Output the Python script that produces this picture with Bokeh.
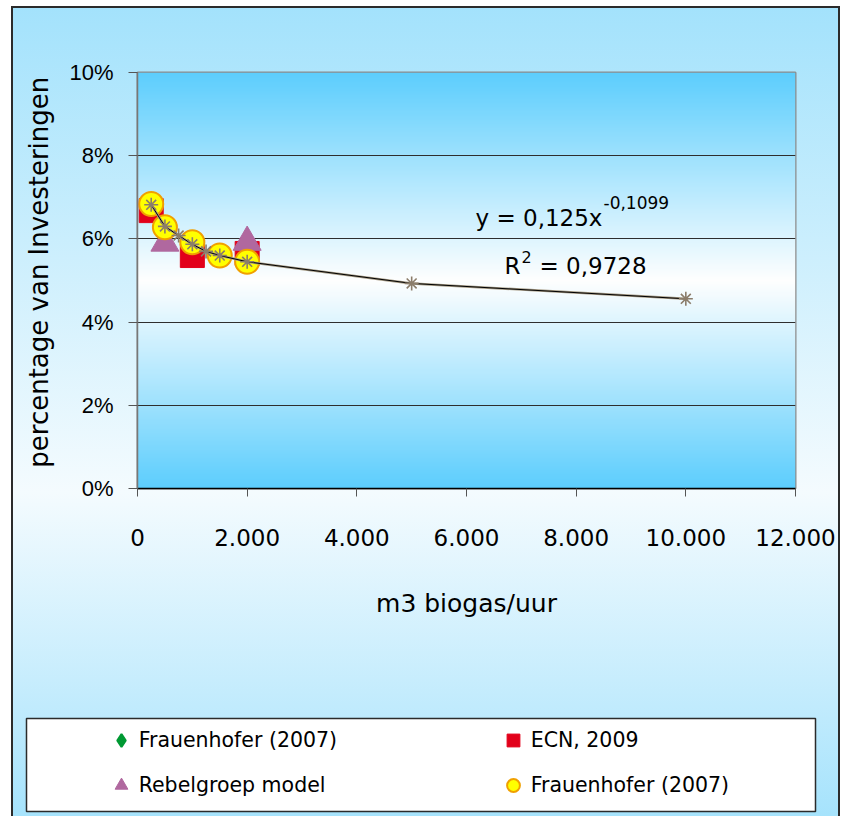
import numpy as np
from bokeh.plotting import figure
from bokeh.models import (Range1d, FixedTicker, PrintfTickFormatter, CustomJSTickFormatter,
                          Legend, LegendItem, Label, ColumnDataSource)
from bokeh.embed import file_html
from bokeh.resources import INLINE

# ---------------- data ----------------
frauenhofer_x = [250, 500, 1000, 1500, 2000]
frauenhofer_y = [6.84, 6.28, 5.92, 5.60, 5.45]
ecn_x = [250, 1000, 2000]
ecn_y = [6.68, 5.60, 5.65]
rebel_x = [500, 2000]
rebel_y = [5.90, 5.92]
trend_x = [250, 500, 750, 1000, 1250, 1500, 2000, 5000, 10000]
trend_y = [6.82, 6.30, 6.08, 5.87, 5.70, 5.60, 5.45, 4.93, 4.56]
x_ticks = [0, 2000, 4000, 6000, 8000, 10000, 12000]
y_ticks = [0, 2, 4, 6, 8, 10]
legend_labels = ["Frauenhofer (2007)", "ECN, 2009", "Rebelgroep model", "Frauenhofer (2007)"]
eq_main = "y = 0,125x"
eq_exp = "-0,1099"
r2_main = "R"
r2_sup = "2"
r2_val = "= 0,9728"

# ---------------- layout ----------------
OFF_X, OFF_Y = 11, 6
W = 829
H1 = 700          # chart part
H2 = 110          # legend part
FL, FT, FW, FH = 137, 72, 658, 416  # frame in page pixels
XMAX, YMAX = 12000, 10
LB_L, LB_R, LB_T, LB_B = 26, 815, 718, 811  # legend box in page pixels


def px2x(px):
    return (px - FL) / FW * XMAX


def py2y(py):
    return (FT + FH - py) / FH * YMAX


src_fr = ColumnDataSource(dict(x=frauenhofer_x, y=frauenhofer_y))
src_ecn = ColumnDataSource(dict(x=ecn_x, y=ecn_y))
src_reb = ColumnDataSource(dict(x=rebel_x, y=rebel_y))
src_tr = ColumnDataSource(dict(x=trend_x, y=trend_y))

p = figure(width=W, height=H1, x_range=Range1d(0, XMAX), y_range=Range1d(0, YMAX),
           output_backend="svg", toolbar_location=None,
           min_border_left=FL - OFF_X, min_border_right=(OFF_X + W) - (FL + FW),
           min_border_top=FT - OFF_Y, min_border_bottom=(OFF_Y + H1) - (FT + FH))
p.border_fill_color = None
p.background_fill_color = None
p.outline_line_color = "#8c8c8c"
p.outline_line_width = 2
p.styles = {
    "margin-left": f"{OFF_X}px",
    "margin-top": f"{OFF_Y}px",
    "background": "linear-gradient(to bottom, #a3e2fc 0%, #f4fbfe 69.4%, #c1ebfd 100%)",
    "box-shadow": "inset 2px 0 0 #2b2b2b, inset -2px 0 0 #2b2b2b, inset 0 2px 0 #2b2b2b",
}

# plot-area gradient (blue at edges, white in the middle)
n = 400
t = np.abs(np.linspace(-1.0, 1.0, n))
blue = np.array([93, 206, 253], dtype=float)
white = np.array([255, 255, 255], dtype=float)
cols = (white[None, :] * (1 - t[:, None]) + blue[None, :] * t[:, None]).astype(np.uint32)
img = np.empty((n, 2), dtype=np.uint32)
view = img.view(dtype=np.uint8).reshape((n, 2, 4))
view[:, :, 0] = cols[:, 0][:, None]
view[:, :, 1] = cols[:, 1][:, None]
view[:, :, 2] = cols[:, 2][:, None]
view[:, :, 3] = 255
p.image_rgba(image=[img], x=0, y=0, dw=XMAX, dh=YMAX, level="image")

# grid
p.xgrid.grid_line_color = None
p.ygrid.ticker = FixedTicker(ticks=y_ticks)
p.ygrid.grid_line_color = "#2e2e2e"
p.ygrid.grid_line_width = 1

# axes
p.xaxis.ticker = FixedTicker(ticks=x_ticks)
p.xaxis.formatter = CustomJSTickFormatter(
    code="return tick.toFixed(0).replace(/\\B(?=(\\d{3})+(?!\\d))/g, '.');")
p.yaxis.ticker = FixedTicker(ticks=y_ticks)
p.yaxis.formatter = PrintfTickFormatter(format="%d%%")

for ax in (p.xaxis, p.yaxis):
    ax.minor_tick_line_color = None
    ax.major_tick_in = 0
    ax.major_label_text_color = "black"
    ax.axis_label_text_color = "black"
    ax.axis_label_text_font = "DejaVu Sans"
    ax.axis_label_text_font_style = "normal"

p.xaxis.axis_line_color = "black"
p.xaxis.axis_line_width = 1.5
p.xaxis.major_tick_line_color = "#555555"
p.xaxis.major_tick_out = 8
p.xaxis.major_label_text_font = "DejaVu Sans"
p.xaxis.major_label_text_font_size = "23px"
p.xaxis.major_label_standoff = 32
p.xaxis.axis_label = "m3 biogas/uur"
p.xaxis.axis_label_text_font_size = "25px"
p.xaxis.axis_label_standoff = 40

p.yaxis.axis_line_color = "#777777"
p.yaxis.axis_line_width = 1.5
p.yaxis.major_tick_line_color = "#555555"
p.yaxis.major_tick_out = 9
p.yaxis.major_label_text_font = "Liberation Sans"
p.yaxis.major_label_text_font_size = "22px"
p.yaxis.major_label_standoff = 15
p.yaxis.axis_label = "\u00a0\u00a0percentage van Investeringen"
p.yaxis.axis_label_text_font_size = "26px"
p.yaxis.axis_label_standoff = 12

# series styles
sty_dia = dict(marker="diamond", size=16, fill_color="#009933", line_color="#009933",
               line_width=2)
sty_ecn = dict(marker="square", size=24, fill_color="#e2001a", line_color="#e2001a")
sty_reb = dict(marker="triangle", size=28, fill_color="#b0689f", line_color="#b0689f")
sty_circ = dict(marker="circle", size=24, fill_color="#ffff00", line_color="#f0a000",
                line_width=2)

p.scatter("x", "y", source=src_fr, **sty_dia)
p.scatter("x", "y", source=src_ecn, **sty_ecn)
p.scatter("x", "y", source=src_reb, **sty_reb)
p.scatter("x", "y", source=src_fr, **sty_circ)
p.line("x", "y", source=src_tr, line_color="#a59a84", line_width=2.5)
p.line("x", "y", source=src_tr, line_color="black", line_width=1)
p.scatter("x", "y", source=src_tr, marker="asterisk", size=14, line_color="#8b7d6b",
          line_width=1.6)

# equation texts
p.add_layout(Label(x=px2x(475), y=py2y(217), text=eq_main, text_font="DejaVu Sans",
                   text_font_size="23px", text_baseline="alphabetic", text_color="black"))
p.add_layout(Label(x=px2x(603), y=py2y(202), text=eq_exp, text_font="DejaVu Sans",
                   text_font_size="17px", text_baseline="alphabetic", text_color="black"))
p.add_layout(Label(x=px2x(504), y=py2y(265), text=r2_main, text_font="DejaVu Sans",
                   text_font_size="23px", text_baseline="alphabetic", text_color="black"))
p.add_layout(Label(x=px2x(521), y=py2y(256), text=r2_sup, text_font="DejaVu Sans",
                   text_font_size="16px", text_baseline="alphabetic", text_color="black"))
p.add_layout(Label(x=px2x(539), y=py2y(265), text=r2_val, text_font="DejaVu Sans",
                   text_font_size="23px", text_baseline="alphabetic", text_color="black"))

# ---------------- legend panel (second root, directly below) ----------------
top2 = OFF_Y + H1
p2 = figure(width=W, height=H2, x_range=Range1d(0, XMAX), y_range=Range1d(-2 * YMAX, -YMAX),
            output_backend="svg", toolbar_location=None,
            x_axis_location=None, y_axis_location=None,
            min_border_left=LB_L - OFF_X, min_border_right=(OFF_X + W) - LB_R,
            min_border_top=LB_T - top2, min_border_bottom=(top2 + H2) - LB_B)
p2.grid.visible = False
p2.border_fill_color = None
p2.background_fill_color = "white"
p2.outline_line_color = "#2b2b2b"
p2.outline_line_width = 1.5
p2.styles = {
    "margin-left": f"{OFF_X}px",
    "background": "linear-gradient(to bottom, #c1ebfd 0%, #a6e3fc 100%)",
    "box-shadow": "inset 2px 0 0 #2b2b2b, inset -2px 0 0 #2b2b2b",
}

# the same series, drawn in the legend panel only for their legend markers
# (the panel's range keeps the points themselves out of view)
g_dia = p2.scatter("x", "y", source=src_fr, **sty_dia)
g_ecn = p2.scatter("x", "y", source=src_ecn, **sty_ecn)
g_reb = p2.scatter("x", "y", source=src_reb, **sty_reb)
g_circ = p2.scatter("x", "y", source=src_fr, **sty_circ)

legend = Legend(
    items=[LegendItem(label=legend_labels[0], renderers=[g_dia]),
           LegendItem(label=legend_labels[1], renderers=[g_ecn]),
           LegendItem(label=legend_labels[2], renderers=[g_reb]),
           LegendItem(label=legend_labels[3], renderers=[g_circ])],
    location=(104.7 - LB_L, LB_B - 801), orientation="horizontal", ncols=2,
    glyph_width=32, glyph_height=32, label_standoff=2, label_width=345, spacing=13,
    padding=0, margin=0, label_text_font="DejaVu Sans", label_text_font_size="20.5px",
    label_text_color="black", border_line_alpha=0, background_fill_alpha=0,
)
p2.add_layout(legend)

open("out.html", "w").write(file_html([p, p2], INLINE))
